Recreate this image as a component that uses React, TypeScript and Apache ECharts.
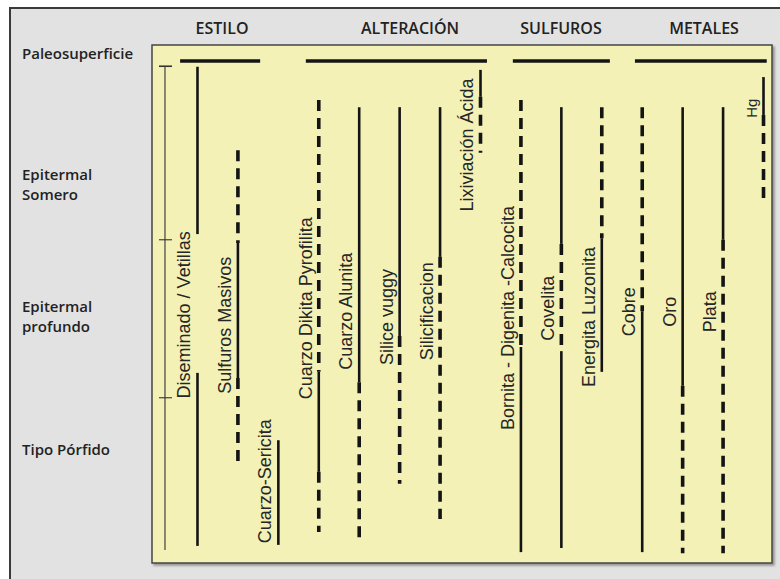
import React, { useEffect, useRef } from "react";
import * as echarts from "echarts";

// Columns (left to right)
const columnNames = [
  "Diseminado / Vetillas",
  "Sulfuros Masivos",
  "Cuarzo-Sericita",
  "Cuarzo Dikita Pyrofilita",
  "Cuarzo Alunita",
  "Silice vuggy",
  "Silicificacion",
  "Lixiviación Ácida",
  "Bornita - Digenita -Calcocita",
  "Covelita",
  "Energita Luzonita",
  "Cobre",
  "Oro",
  "Plata",
  "Hg",
];

// [column index, depth from, depth to]  (depth 0 = top of panel, 100 = bottom)
const solidSegments = [
  [0, 4.2, 36.5], [0, 63.3, 96.7],
  [1, 38.2, 64.3],
  [2, 76.3, 96.5],
  [3, 63.1, 82.4],
  [4, 12.0, 65.1],
  [5, 12.0, 56.2],
  [6, 12.0, 40.9],
  [7, 4.8, 10.0],
  [8, 58.3, 97.9],
  [9, 12.0, 38.4], [9, 59.1, 97.1],
  [10, 37.3, 63.1],
  [11, 51.4, 97.9],
  [12, 12.0, 65.8],
  [13, 12.0, 37.6],
  [14, 6.2, 13.5],
];

const dashedSegments = [
  [1, 20.3, 38.2], [1, 64.3, 80.5],
  [3, 10.6, 63.1], [3, 82.4, 94.0],
  [4, 65.1, 95.6],
  [5, 56.2, 84.7],
  [6, 40.9, 91.5],
  [7, 10.0, 20.8],
  [8, 10.6, 58.3],
  [9, 38.4, 59.1],
  [10, 12.0, 37.3],
  [11, 12.0, 51.4],
  [12, 65.8, 98.1],
  [13, 37.6, 98.1],
  [14, 13.5, 29.9],
];

// depth of the centre of each column's label
const labelDepth = [52.1, 54.1, 84.2, 50.8, 51.4, 52.5, 51.4, 19.3, 52.7, 50.8, 52.5, 51.5, 51.5, 51.5, 12.2];

// Group headers and their bars (in column units)
const groupNames = ["ESTILO", "ALTERACIÓN", "SULFUROS", "METALES"];
const groupFrom = [-0.43, 2.68, 7.8, 10.82];
const groupTo = [1.55, 7.16, 10.2, 14.08];
const groupBarDepth = 3.1;

// Depth zones
const zoneNames = ["Paleosuperficie", "Epitermal\nSomero", "Epitermal\nprofundo", "Tipo Pórfido"];
const zoneLabelDepth = [1.5, 26.8, 52.3, 78.0];
const zoneBoundaries = [4.1, 37.6, 68.1, 97.5];

const X_MIN = -1.125;
const X_MAX = 14.21;
const SCALE_X = -0.804;
const INK = "#141414";

export default function App() {
  const ref = useRef<HTMLDivElement>(null);

  useEffect(() => {
    if (!ref.current) return;
    const chart = echarts.init(ref.current, undefined, { renderer: "svg" });

    const segRender = (dashed: boolean) => (params: any, api: any) => {
      const x = api.value(0);
      const p1 = api.coord([x, api.value(1)]);
      const p2 = api.coord([x, api.value(2)]);
      return {
        type: "line",
        shape: { x1: p1[0], y1: p1[1], x2: p2[0], y2: p2[1] },
        style: dashed
          ? { stroke: INK, lineWidth: 3.6, lineDash: [11, 7] }
          : { stroke: INK, lineWidth: 2.6 },
      };
    };

    const headerTextX = [222, 410, 561, 704];

    const option: any = {
      animation: false,
      backgroundColor: "#ffffff",
      graphic: {
        elements: [
          {
            type: "rect",
            z: -100,
            shape: { x: 10, y: 8, width: 800, height: 600 },
            style: { fill: "#e2e2e2", stroke: "#3a3a3a", lineWidth: 2 },
            silent: true,
          },
          ...groupNames.map((g, i) => ({
            type: "text",
            x: headerTextX[i],
            y: 28,
            style: {
              text: g,
              fill: "#222",
              fontSize: 16,
              fontWeight: 600,
              fontFamily: "Open Sans",
              align: "center",
              verticalAlign: "middle",
              textAlign: "center",
              textVerticalAlign: "middle",
            },
          })),
        ],
      },
      grid: {
        left: 152,
        top: 45,
        width: 620,
        height: 518,
        show: true,
        backgroundColor: "#f3f1b6",
        borderColor: "#454545",
        borderWidth: 1.5,
        shadowColor: "rgba(0,0,0,0.35)",
        shadowBlur: 2,
        shadowOffsetX: 2,
        shadowOffsetY: 2,
      },
      xAxis: { type: "value", min: X_MIN, max: X_MAX, show: false },
      yAxis: { type: "value", min: 0, max: 100, inverse: true, show: false },
      series: [
        {
          type: "custom",
          name: "Continuo",
          clip: false,
          renderItem: segRender(false),
          data: solidSegments,
          encode: { x: 0, y: [1, 2] },
        },
        {
          type: "custom",
          name: "Discontinuo",
          clip: false,
          renderItem: segRender(true),
          data: dashedSegments,
          encode: { x: 0, y: [1, 2] },
        },
        {
          type: "custom",
          name: "Encabezados",
          clip: false,
          renderItem: (params: any, api: any) => {
            const i = params.dataIndex;
            const p1 = api.coord([groupFrom[i], groupBarDepth]);
            const p2 = api.coord([groupTo[i], groupBarDepth]);
            return {
              type: "line",
              shape: { x1: p1[0], y1: p1[1], x2: p2[0], y2: p2[1] },
              style: { stroke: INK, lineWidth: 3.6 },
            };
          },
          data: groupNames.map((_, i) => [groupFrom[i], groupBarDepth]),
        },
        {
          type: "custom",
          name: "Etiquetas",
          clip: false,
          renderItem: (params: any, api: any) => {
            const i = params.dataIndex;
            const p = api.coord([i, labelDepth[i]]);
            const isSmall = columnNames[i] === "Hg";
            return {
              type: "text",
              x: p[0] - (isSmall ? 12 : 13),
              y: p[1],
              rotation: Math.PI / 2,
              style: {
                text: columnNames[i],
                fill: "#262626",
                fontSize: isSmall ? 15 : 18,
                fontFamily: "'Liberation Sans', Arial, sans-serif",
                align: "center",
                verticalAlign: "middle",
                textAlign: "center",
                textVerticalAlign: "middle",
              },
            };
          },
          data: columnNames.map((_, i) => [i, labelDepth[i]]),
        },
        {
          type: "custom",
          name: "Escala",
          clip: false,
          renderItem: (params: any, api: any) => {
            const i = params.dataIndex;
            const p = api.coord([SCALE_X, zoneBoundaries[i]]);
            const children: any[] = [];
            if (i < zoneBoundaries.length - 1) {
              children.push({
                type: "line",
                shape: { x1: p[0] - 6, y1: p[1], x2: p[0] + 7, y2: p[1] },
                style: { stroke: "#333", lineWidth: i === 0 ? 1.6 : 1.1 },
              });
            }
            if (i > 0) {
              const q = api.coord([SCALE_X, zoneBoundaries[i - 1]]);
              children.push({
                type: "line",
                shape: { x1: q[0], y1: q[1], x2: p[0], y2: p[1] },
                style: { stroke: "#333", lineWidth: 1.1 },
              });
            }
            return { type: "group", children };
          },
          data: zoneBoundaries.map((v) => [SCALE_X, v]),
        },
        {
          type: "custom",
          name: "Zonas",
          clip: false,
          renderItem: (params: any, api: any) => {
            const i = params.dataIndex;
            const p = api.coord([X_MIN, zoneLabelDepth[i]]);
            const lines = zoneNames[i].split("\n");
            const step = 20.5;
            const y0 = p[1] - ((lines.length - 1) * step) / 2;
            return {
              type: "group",
              children: lines.map((line, k) => ({
                type: "text",
                x: p[0] - 130,
                y: y0 + k * step,
                style: {
                  text: line,
                  fill: "#222",
                  fontSize: 15,
                  fontWeight: 600,
                  fontFamily: "'Open Sans', sans-serif",
                  align: "left",
                  verticalAlign: "middle",
                  textAlign: "left",
                  textVerticalAlign: "middle",
                },
              })),
            };
          },
          data: zoneNames.map((_, i) => [X_MIN, zoneLabelDepth[i]]),
        },
      ],
    };

    chart.setOption(option);
    return () => chart.dispose();
  }, []);

  return (
    <div
      ref={ref}
      style={{ position: "fixed", left: 0, top: 0, width: 780, height: 579 }}
    />
  );
}
